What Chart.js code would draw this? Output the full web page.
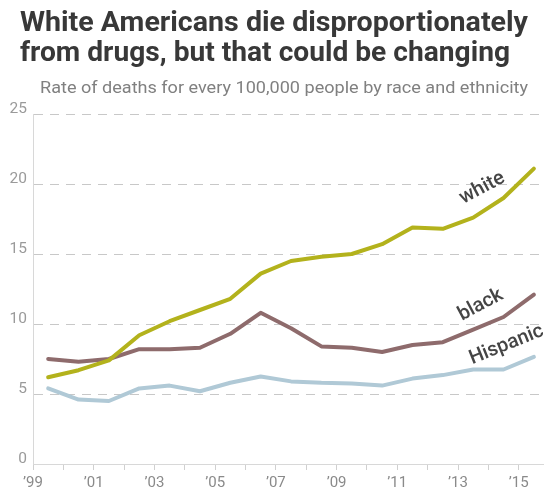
<!DOCTYPE html>
<html>
<head>
<meta charset="utf-8">
<script src="https://cdn.jsdelivr.net/npm/chart.js@4.4.0/dist/chart.umd.min.js"></script>
<style>
  html, body { margin: 0; padding: 0; background: #fff; }
  #wrap { position: relative; width: 556px; height: 492px; overflow: hidden; }
  #grafico { position: absolute; left: 0; top: 0; }
  .txt { position: absolute; white-space: nowrap; transform-origin: 0 0; }
  #titulo1, #titulo2 { left: 20px; font-family: Roboto, sans-serif; font-weight: 700; font-size: 28.5px; color: #383838; line-height: 30px; }
  #titulo1 { top: 7px; }
  #titulo2 { top: 37px; }
  #subtitulo { left: 40px; top: 78px; font-family: Roboto, sans-serif; font-weight: 400; font-size: 16px; color: #808080; line-height: 20px; }
</style>
</head>
<body>
<div id="wrap">
  <canvas id="grafico" width="556" height="492"></canvas>
  <div class="txt" id="titulo1">White Americans die disproportionately</div>
  <div class="txt" id="titulo2">from drugs, but that could be changing</div>
  <div class="txt" id="subtitulo">Rate of deaths for every 100,000 people by race and ethnicity</div>
</div>
<script>
// anos (ponto no meio do ano)
var anos = [1999.5, 2000.5, 2001.5, 2002.5, 2003.5, 2004.5, 2005.5, 2006.5, 2007.5,
            2008.5, 2009.5, 2010.5, 2011.5, 2012.5, 2013.5, 2014.5, 2015.5];
var white    = [6.2, 6.7, 7.4, 9.2, 10.2, 11.0, 11.8, 13.6, 14.5, 14.8, 15.0, 15.7, 16.9, 16.8, 17.6, 19.0, 21.1];
var black    = [7.5, 7.3, 7.5, 8.2, 8.2, 8.3, 9.3, 10.8, 9.7, 8.4, 8.3, 8.0, 8.5, 8.7, 9.6, 10.5, 12.1];
var hispanic = [5.4, 4.6, 4.5, 5.4, 5.6, 5.2, 5.8, 6.25, 5.9, 5.8, 5.75, 5.6, 6.1, 6.35, 6.75, 6.75, 7.65];
var yTicks = [0, 5, 10, 15, 20, 25];
var nomes = ['white', 'black', 'Hispanic'];

// ajusta largura dos textos do titulo
function ajustar(id, largura) {
  var el = document.getElementById(id);
  var w = el.getBoundingClientRect().width;
  el.style.transform = 'scaleX(' + (largura / w) + ')';
}
ajustar('titulo1', 508);
ajustar('titulo2', 490);
ajustar('subtitulo', 488);

function pontos(valores) {
  return valores.map(function (v, i) { return { x: anos[i], y: v }; });
}

// rotulos das linhas (posicao em coordenadas de dados)
var rotulos = [
  { texto: nomes[0], x: 2013.8, y: 19.7, ang: -28 },
  { texto: nomes[1], x: 2013.75, y: 11.35, ang: -28 },
  { texto: nomes[2], x: 2014.6, y: 8.5, ang: -22 }
];

var pluginRotulos = {
  id: 'rotulos',
  afterDatasetsDraw: function (chart) {
    var ctx = chart.ctx;
    ctx.save();
    ctx.font = '500 20px Roboto, sans-serif';
    ctx.fillStyle = '#454545';
    ctx.textAlign = 'center';
    ctx.textBaseline = 'middle';
    rotulos.forEach(function (r) {
      var px = chart.scales.x.getPixelForValue(r.x);
      var py = chart.scales.y.getPixelForValue(r.y);
      ctx.save();
      ctx.translate(px, py);
      ctx.rotate(r.ang * Math.PI / 180);
      ctx.fillText(r.texto, 0, 0);
      ctx.restore();
    });
    ctx.restore();
  }
};

var grafico = document.getElementById('grafico');

new Chart(grafico, {
  type: 'line',
  data: {
    datasets: [{
      label: nomes[0],
      data: pontos(white),
      borderColor: '#b3b21c',
      borderWidth: 4
    }, {
      label: nomes[1],
      data: pontos(black),
      borderColor: '#8e6b6c',
      borderWidth: 4
    }, {
      label: nomes[2],
      data: pontos(hispanic),
      borderColor: '#b0c9d6',
      borderWidth: 4
    }]
  },
  options: {
    responsive: false,
    animation: false,
    events: [],
    layout: { padding: { top: 114, left: 0, right: 13, bottom: 0 } },
    elements: {
      point: { radius: 0 },
      line: { tension: 0, borderJoinStyle: 'round', borderCapStyle: 'round' }
    },
    plugins: {
      legend: { display: false },
      tooltip: { enabled: false }
    },
    scales: {
      x: {
        type: 'linear',
        min: 1999,
        max: 2015.8,
        afterFit: function (s) { s.height = 28; },
        ticks: {
          stepSize: 1,
          includeBounds: false,
          autoSkip: false,
          maxRotation: 0,
          padding: 4,
          color: '#8a8a8a',
          font: { family: 'Roboto', size: 15 },
          callback: function (v) {
            if (v % 2 === 0) return '';
            return '\u2019' + String(v % 100).padStart(2, '0');
          }
        },
        grid: { drawOnChartArea: false, tickLength: 6, tickColor: '#d0d0d0' },
        border: { color: '#d8d8d8', width: 1 }
      },
      y: {
        min: 0,
        max: 25,
        afterFit: function (s) { s.width = 33; },
        afterBuildTicks: function (s) { s.ticks = yTicks.map(function (v) { return { value: v }; }); },
        ticks: {
          padding: 6,
          labelOffset: -5,
          color: '#9a9a9a',
          font: { family: 'Roboto', size: 15.5 }
        },
        grid: { drawTicks: false, color: '#c8c8c8', lineWidth: 1 },
        border: { color: '#d8d8d8', width: 1, dash: [9, 7] }
      }
    }
  },
  plugins: [pluginRotulos]
});
</script>
</body>
</html>
